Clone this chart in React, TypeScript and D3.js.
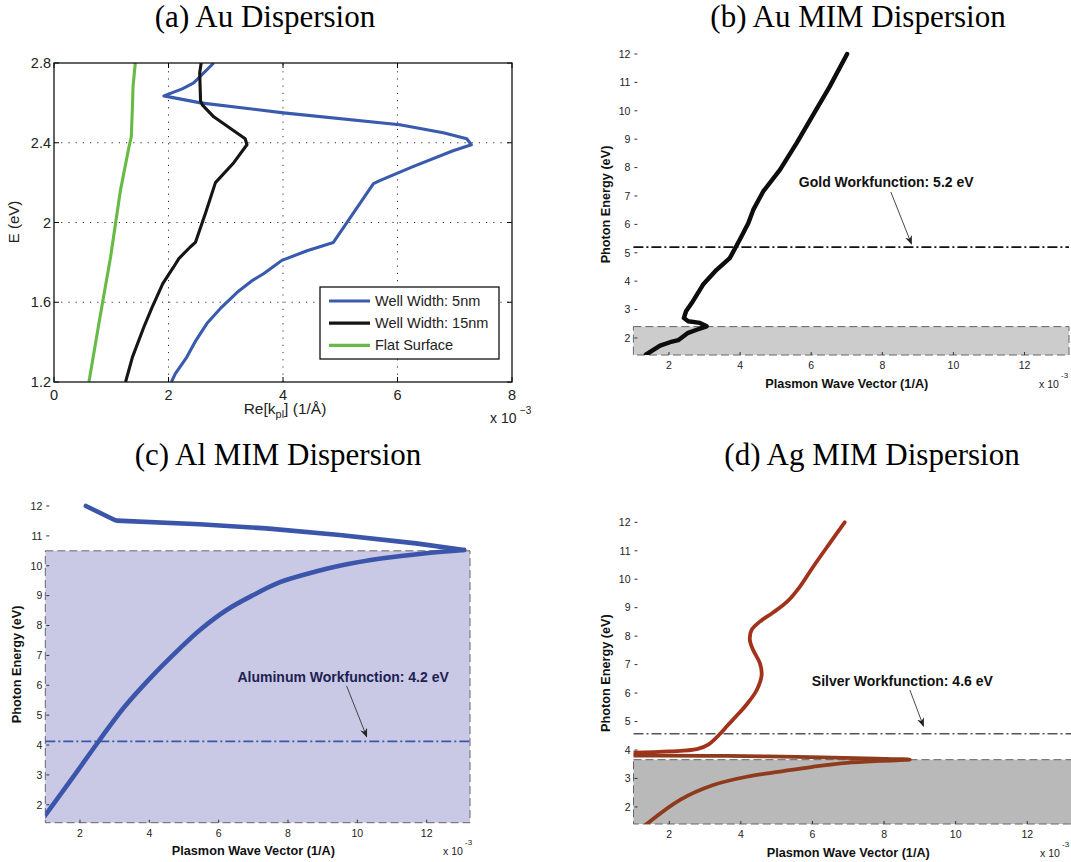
import React from 'react';
import * as d3 from 'd3';

// ---------- Panel (a) data : Au dispersion (x in 1e-3 1/Å, E in eV)
const well5Kx = [2.05, 2.12, 2.32, 2.48, 2.67, 2.93, 3.20, 3.47, 3.66, 3.84, 3.98, 4.42, 4.88, 5.58, 5.69, 6.27, 6.97, 7.29, 7.21, 6.80, 6.04, 4.01, 2.56, 1.92, 2.24, 2.44, 2.79];
const well5E = [1.2, 1.242, 1.325, 1.409, 1.493, 1.576, 1.65, 1.71, 1.743, 1.78, 1.81, 1.858, 1.90, 2.195, 2.21, 2.28, 2.36, 2.39, 2.42, 2.45, 2.49, 2.55, 2.60, 2.635, 2.67, 2.70, 2.80];
const well15Kx = [1.25, 1.37, 1.57, 1.715, 1.90, 2.09, 2.18, 2.38, 2.47, 2.65, 2.82, 3.14, 3.37, 3.34, 3.14, 2.79, 2.59, 2.56, 2.545, 2.57];
const well15E = [1.2, 1.325, 1.476, 1.576, 1.693, 1.777, 1.819, 1.877, 1.90, 2.05, 2.20, 2.30, 2.39, 2.42, 2.46, 2.53, 2.59, 2.61, 2.75, 2.80];
const flatKx = [0.61, 0.80, 0.99, 1.16, 1.31, 1.35, 1.37, 1.38, 1.42];
const flatE = [1.2, 1.52, 1.83, 2.16, 2.38, 2.43, 2.58, 2.68, 2.8];
const aXTicks = [0, 2, 4, 6, 8];
const aYTicks = [1.2, 1.6, 2, 2.4, 2.8];
const aXGrid = [2, 4, 6];
const aYGrid = [1.6, 2, 2.4];
const legendLabels = ['Well Width: 5nm', 'Well Width: 15nm', 'Flat Surface'];

// ---------- Panel (b) data : Au MIM
const goldKx = [1.35, 1.75, 2.03, 2.26, 2.54, 2.78, 3.06, 2.87, 2.54, 2.42, 2.48, 2.64, 2.96, 3.34, 3.71, 3.99, 4.23, 4.37, 4.65, 5.12, 5.59, 6.05, 6.52, 7.01];
const goldE = [1.41, 1.73, 1.85, 1.92, 2.18, 2.29, 2.41, 2.53, 2.59, 2.70, 2.94, 3.23, 3.88, 4.40, 4.81, 5.46, 6.04, 6.51, 7.16, 7.92, 8.86, 9.85, 10.85, 12.0];
const goldWF = 5.2;
const goldBand = [1.4, 2.4];

// ---------- Panel (c) data : Al MIM
const alLowKx = [0.97, 1.81, 2.53, 3.25, 4.02, 4.89, 5.46, 6.23, 7.0, 7.77, 8.62, 9.49, 10.73, 11.98, 13.08];
const alLowE = [1.60, 2.94, 4.11, 5.23, 6.23, 7.24, 7.85, 8.52, 9.02, 9.45, 9.75, 10.0, 10.25, 10.42, 10.53];
const alUpKx = [13.08, 11.69, 9.49, 7.37, 5.45, 3.06, 3.0, 2.17];
const alUpE = [10.53, 10.75, 11.03, 11.25, 11.39, 11.51, 11.53, 12.0];
const alWF = 4.12;
const alBand = [1.4, 10.5];

// ---------- Panel (d) data : Ag MIM
const agLowKx = [1.35, 2.30, 3.23, 4.16, 5.09, 6.01, 6.95, 7.88, 8.72, 7.79, 5.93, 3.60, 1.74, 0.9];
const agLowE = [1.38, 2.25, 2.77, 3.06, 3.24, 3.41, 3.55, 3.62, 3.66, 3.70, 3.75, 3.79, 3.80, 3.80];
const agUpKx = [0.9, 2.0, 2.77, 3.10, 3.42, 3.62, 3.88, 4.16, 4.44, 4.58, 4.53, 4.34, 4.25, 4.30, 4.53, 4.90, 5.30, 5.65, 6.02, 6.48, 6.90];
const agUpE = [3.90, 3.95, 4.03, 4.20, 4.57, 4.85, 5.20, 5.60, 6.10, 6.64, 7.05, 7.52, 7.87, 8.22, 8.51, 8.83, 9.22, 9.74, 10.44, 11.26, 12.0];
const agWF = 4.57;
const agBand = [1.4, 3.66];

const mimXTicks = [2, 4, 6, 8, 10, 12];
const mimYTicks = [2, 3, 4, 5, 6, 7, 8, 9, 10, 11, 12];
const mimXDomain = [1, 13.25];
const mimYDomain = [1.4, 12];

const SANS = 'Liberation Sans, Arial, Helvetica, sans-serif';
const SERIF = 'Liberation Serif, Times New Roman, serif';

type Curve = d3.CurveFactory;
function pathOf(xs: number[], ys: number[], sx: any, sy: any, curve: Curve = d3.curveLinear) {
  const pts: [number, number][] = xs.map((x, i) => [x, ys[i]]);
  return d3.line<[number, number]>().x(d => sx(d[0])).y(d => sy(d[1])).curve(curve)(pts) || '';
}

function PanelA() {
  const sx = d3.scaleLinear().domain([0, 8]).range([54, 512]);
  const sy = d3.scaleLinear().domain([1.2, 2.8]).range([382, 63]);
  const [x0, x1] = sx.range();
  const [y0, y1] = sy.range();
  const series = [
    { xs: well5Kx, ys: well5E, color: '#3a5aae' },
    { xs: well15Kx, ys: well15E, color: '#151515' },
    { xs: flatKx, ys: flatE, color: '#66bb46' },
  ];
  return (
    <g>
      <text x={265} y={27} fontFamily={SERIF} fontSize={31} textAnchor="middle">(a) Au Dispersion</text>
      <rect x={x0} y={y1} width={x1 - x0} height={y0 - y1} fill="#fff" />
      {aXGrid.map(v => (
        <line key={'gx' + v} x1={sx(v)} x2={sx(v)} y1={y0} y2={y1} stroke="#333" strokeWidth={1} strokeDasharray="1.2,6" />
      ))}
      {aYGrid.map(v => (
        <line key={'gy' + v} x1={x0} x2={x1} y1={sy(v)} y2={sy(v)} stroke="#333" strokeWidth={1} strokeDasharray="1.2,6" />
      ))}
      <defs>
        <clipPath id="aclip">
          <rect x={x0} y={y1} width={x1 - x0} height={y0 - y1} />
        </clipPath>
      </defs>
      <g clipPath="url(#aclip)">
        {series.map((s, i) => (
          <path key={i} d={pathOf(s.xs, s.ys, sx, sy)} fill="none" stroke={s.color} strokeWidth={3.1} strokeLinejoin="round" />
        ))}
      </g>
      {aXTicks.map(v => (
        <g key={'tx' + v}>
          <line x1={sx(v)} x2={sx(v)} y1={y0} y2={y0 - 5} stroke="#000" />
          <line x1={sx(v)} x2={sx(v)} y1={y1} y2={y1 + 5} stroke="#000" />
          <text x={sx(v)} y={y0 + 18} fontFamily={SANS} fontSize={14.5} textAnchor="middle" fill="#222">{v}</text>
        </g>
      ))}
      {aYTicks.map(v => (
        <g key={'ty' + v}>
          <line x1={x0} x2={x0 + 5} y1={sy(v)} y2={sy(v)} stroke="#000" />
          <line x1={x1} x2={x1 - 5} y1={sy(v)} y2={sy(v)} stroke="#000" />
          <text x={x0 - 3} y={sy(v) + 5} fontFamily={SANS} fontSize={14.5} textAnchor="end" fill="#222">{v}</text>
        </g>
      ))}
      <rect x={x0} y={y1} width={x1 - x0} height={y0 - y1} fill="none" stroke="#111" strokeWidth={1.3} />
      {/* legend */}
      <rect x={320} y={287} width={179} height={72} fill="#fff" stroke="#111" strokeWidth={1.3} />
      {legendLabels.map((lab, i) => (
        <g key={lab}>
          <line x1={329} x2={370} y1={301 + i * 22.2} y2={301 + i * 22.2} stroke={series[i].color} strokeWidth={3.2} />
          <text x={375} y={306 + i * 22.2} fontFamily={SANS} fontSize={14.5} fill="#222">{lab}</text>
        </g>
      ))}
      <text x={15} y={222} fontFamily={SANS} fontSize={15} textAnchor="middle" transform="rotate(-90 15 222)" dominantBaseline="middle" fill="#222">E (eV)</text>
      <text x={285} y={414} fontFamily={SANS} fontSize={15.5} textAnchor="middle" fill="#222">
        Re[k<tspan fontSize={11} dy={4}>pl</tspan><tspan dy={-4}>] (1/Å)</tspan>
      </text>
      <text x={490} y={423} fontFamily={SANS} fontSize={14} fill="#222">x 10</text>
      <text x={520} y={414} fontFamily={SANS} fontSize={10} fill="#222">−3</text>
    </g>
  );
}

type Series = { xs: number[]; ys: number[]; color: string; width: number; curve: Curve };
type MimProps = {
  id: string;
  title: string;
  titleX: number;
  titleY: number;
  xr: [number, number];
  yr: [number, number];
  band: number[];
  bandFill: string;
  wf: number;
  wfColor: string;
  series: Series[];
  note: string;
  noteColor: string;
  noteAt: [number, number];
  arrowFrom: [number, number];
  arrowTo: [number, number];
  yLabelX: number;
  xLabelY: number;
  expX: number;
};

function MimPanel(p: MimProps) {
  const sx = d3.scaleLinear().domain(mimXDomain).range(p.xr);
  const sy = d3.scaleLinear().domain(mimYDomain).range(p.yr);
  const [x0, x1] = p.xr;
  const [y0, y1] = p.yr;
  const cy = (y0 + y1) / 2;
  const cx = sx(7);
  return (
    <g>
      <defs>
        <clipPath id={p.id + 'clip'}>
          <rect x={x0} y={y1 - 3} width={x1 - x0} height={y0 - y1 + 3} />
        </clipPath>
        <marker id={p.id + 'arr'} viewBox="0 0 10 10" refX={9} refY={5} markerWidth={9} markerHeight={9} orient="auto" markerUnits="userSpaceOnUse">
          <path d="M0,1 L10,5 L0,9 L3,5 Z" fill="#222" />
        </marker>
      </defs>
      <text x={p.titleX} y={p.titleY} fontFamily={SERIF} fontSize={31} textAnchor="middle">{p.title}</text>
      <rect x={x0} y={sy(p.band[1])} width={x1 - x0} height={sy(p.band[0]) - sy(p.band[1])} fill={p.bandFill} stroke="#666" strokeWidth={1} strokeDasharray="8,4" />
      <line x1={x0} x2={x1} y1={sy(p.wf)} y2={sy(p.wf)} stroke={p.wfColor} strokeWidth={1.7} strokeDasharray="10,3,2,3" />
      <g clipPath={`url(#${p.id}clip)`}>
        {p.series.map((s, i) => (
          <path key={i} d={pathOf(s.xs, s.ys, sx, sy, s.curve)} fill="none" stroke={s.color} strokeWidth={s.width} strokeLinejoin="round" strokeLinecap="round" />
        ))}
      </g>
      {mimXTicks.map(v => (
        <g key={'x' + v}>
          <line x1={sx(v)} x2={sx(v)} y1={y0} y2={y0 - 3} stroke="#333" />
          <text x={sx(v)} y={y0 + 14} fontFamily={SANS} fontSize={10.5} textAnchor="middle" fill="#222">{v}</text>
        </g>
      ))}
      {mimYTicks.map(v => (
        <g key={'y' + v}>
          <line x1={x0 + 1} x2={x0 + 4} y1={sy(v)} y2={sy(v)} stroke="#333" />
          <text x={x0 - 3} y={sy(v) + 3.8} fontFamily={SANS} fontSize={10.5} textAnchor="end" fill="#222">{v}</text>
        </g>
      ))}
      <text x={p.yLabelX} y={cy} fontFamily={SANS} fontSize={12.7} fontWeight="bold" textAnchor="middle" dominantBaseline="middle" transform={`rotate(-90 ${p.yLabelX} ${cy})`} fill="#111">Photon Energy (eV)</text>
      <text x={cx} y={p.xLabelY} fontFamily={SANS} fontSize={12.7} fontWeight="bold" textAnchor="middle" fill="#111">Plasmon Wave Vector (1/A)</text>
      <text x={p.expX} y={p.xLabelY} fontFamily={SANS} fontSize={10.5} fill="#222">x 10</text>
      <text x={p.expX + 22} y={p.xLabelY - 10} fontFamily={SANS} fontSize={8} fill="#222">-3</text>
      <text x={sx(p.noteAt[0])} y={sy(p.noteAt[1])} fontFamily={SANS} fontSize={14} fontWeight="bold" textAnchor="middle" fill={p.noteColor}>{p.note}</text>
      <line x1={sx(p.arrowFrom[0])} y1={sy(p.arrowFrom[1])} x2={sx(p.arrowTo[0])} y2={sy(p.arrowTo[1])} stroke="#333" strokeWidth={0.9} markerEnd={`url(#${p.id}arr)`} />
    </g>
  );
}

const smooth = d3.curveCatmullRom.alpha(0.5);

export default function App() {
  return (
    <svg width={1071} height={862} viewBox="0 0 1071 862" style={{ position: 'absolute', left: 0, top: 0, display: 'block', background: '#fff' }}>
      <rect x={0} y={0} width={1071} height={862} fill="#fff" />
      <PanelA />
      <MimPanel
        id="b" title="(b) Au MIM Dispersion" titleX={858} titleY={27}
        xr={[633.4, 1069]} yr={[355, 54]}
        band={goldBand} bandFill="#cccccc" wf={goldWF} wfColor="#111"
        series={[{ xs: goldKx, ys: goldE, color: '#0d0d0d', width: 4.4, curve: d3.curveLinear }]}
        note="Gold Workfunction: 5.2 eV" noteColor="#111" noteAt={[8.11, 7.32]}
        arrowFrom={[8.24, 7.14]} arrowTo={[8.82, 5.31]}
        yLabelX={607} xLabelY={388} expX={1039}
      />
      <MimPanel
        id="c" title="(c) Al MIM Dispersion" titleX={278} titleY={465}
        xr={[45.3, 470]} yr={[822.7, 506]}
        band={alBand} bandFill="#c9c9e5" wf={alWF} wfColor="#3a55aa"
        series={[
          { xs: alLowKx, ys: alLowE, color: '#3a55aa', width: 4.6, curve: smooth },
          { xs: alUpKx, ys: alUpE, color: '#3a55aa', width: 4.6, curve: d3.curveLinear },
        ]}
        note="Aluminum Workfunction: 4.2 eV" noteColor="#1c2152" noteAt={[9.59, 6.11]}
        arrowFrom={[9.69, 5.98]} arrowTo={[10.27, 4.28]}
        yLabelX={18} xLabelY={855} expX={443}
      />
      <MimPanel
        id="d" title="(d) Ag MIM Dispersion" titleX={872} titleY={465}
        xr={[633.5, 1072]} yr={[824, 522.3]}
        band={agBand} bandFill="#b9b9b9" wf={agWF} wfColor="#555"
        series={[
          { xs: agLowKx, ys: agLowE, color: '#8f3a1c', width: 3.8, curve: smooth },
          { xs: agUpKx, ys: agUpE, color: '#a3321c', width: 3.8, curve: smooth },
        ]}
        note="Silver Workfunction: 4.6 eV" noteColor="#111" noteAt={[8.51, 6.25]}
        arrowFrom={[8.72, 6.11]} arrowTo={[9.10, 4.84]}
        yLabelX={607} xLabelY={857} expX={1040}
      />
    </svg>
  );
}
